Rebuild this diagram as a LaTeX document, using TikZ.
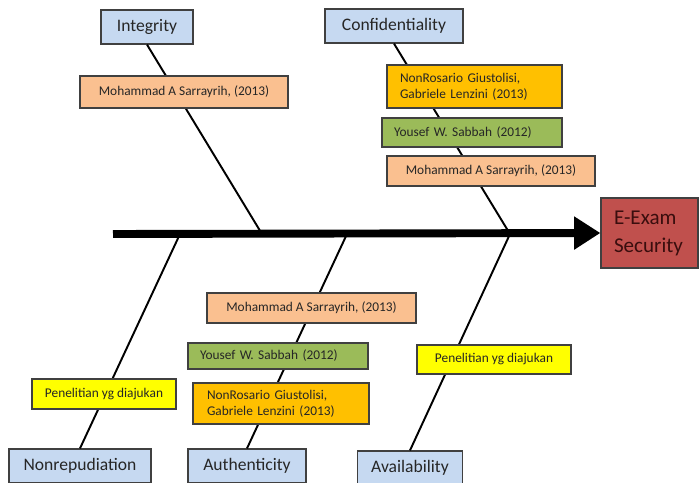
\documentclass[tikz,border=0pt]{standalone}
\usepackage{fontspec}
\setmainfont{Carlito}
\usetikzlibrary{arrows.meta}

\definecolor{boxline}{HTML}{404040}
\definecolor{txtdark}{HTML}{262626}
\definecolor{headblue}{HTML}{C6D9F1}
\definecolor{refsalmon}{HTML}{FAC090}
\definecolor{refgold}{HTML}{FFC000}
\definecolor{refgreen}{HTML}{9BBB59}
\definecolor{refyellow}{HTML}{FFFF00}
\definecolor{examred}{HTML}{C0504D}
\definecolor{examtxt}{HTML}{3A0E0E}

\begin{document}
\begin{tikzpicture}[x=0.02cm, y=-0.02cm,
    head/.style={draw=boxline, fill=headblue, line width=0.7pt, inner sep=0pt,
      minimum height=0.68cm, font=\fontsize{10}{12}\selectfont, text=txtdark},
    ref/.style={draw=boxline, line width=0.7pt, inner sep=0pt,
      font=\fontsize{7.6}{9.2}\selectfont, text=txtdark},
    bone/.style={line width=1.1pt}]
    \useasboundingbox (0,0) rectangle (700,483);

    % Category boxes
    \node[head, minimum width=1.84cm] (integrity) at (147,27) {Integrity};
    \node[head, minimum width=2.76cm] (confid) at (394,26) {Confidentiality};
    \node[head, minimum width=2.84cm] (nonrep) at (80,466) {Nonrepudiation};
    \node[head, minimum width=2.36cm] (authen) at (247,466) {Authenticity};
    \node[head, minimum width=2.10cm] (avail) at (410,468) {Availability};

    % Effect box
    \node[draw=boxline, fill=examred, line width=0.7pt, inner xsep=0.26cm, inner ysep=0pt,
      minimum width=1.94cm, minimum height=1.4cm, text width=1.42cm, align=left,
      font=\fontsize{12}{16}\selectfont, text=examtxt] (exam) at (649.5,233) {E-Exam\\Security};

    % Points on the spine
    \coordinate (tail) at (113,234);
    \coordinate (s1) at (180,234);
    \coordinate (s2) at (262,234);
    \coordinate (s3) at (347,234);
    \coordinate (s4) at (510,234);

    % Bones
    \draw[bone] (s2) -- (integrity.south);
    \draw[bone] (s4) -- (confid.south);
    \draw[bone] (s1) -- (nonrep.north);
    \draw[bone] (s3) -- (authen.north);
    \draw[bone] (s4) -- (avail.north);

    % Spine
    \draw[line width=4.5pt, -{Triangle[length=15pt, width=18pt]}] (tail) -- (exam.west);

    % References on each bone
    \node[ref, fill=refsalmon, minimum width=4.16cm, minimum height=0.64cm] (intref) at (184,92)
      {Mohammad A Sarrayrih, (2013)};

    \node[ref, fill=refgold, minimum height=0.86cm, inner xsep=0.26cm, text width=2.98cm, align=left] (confgold) at (474.5,86.5)
      {NonRosario Giustolisi,\\Gabriele Lenzini (2013)};
    \node[ref, fill=refgreen, minimum height=0.58cm, inner xsep=0.24cm, text width=3.12cm, align=left] (confgreen) at (472,132.5)
      {Yousef W. Sabbah (2012)};
    \node[ref, fill=refsalmon, minimum width=4.16cm, minimum height=0.6cm] (confsalmon) at (491,171)
      {Mohammad A Sarrayrih, (2013)};

    \node[ref, fill=refsalmon, minimum width=4.18cm, minimum height=0.6cm] (authsalmon) at (311.5,308)
      {Mohammad A Sarrayrih, (2013)};
    \node[ref, fill=refgreen, minimum height=0.52cm, inner xsep=0.24cm, text width=3.12cm, align=left] (authgreen) at (278,356)
      {Yousef W. Sabbah (2012)};
    \node[ref, fill=refgold, minimum height=0.82cm, inner xsep=0.28cm, text width=2.96cm, align=left] (authgold) at (281,403.5)
      {NonRosario Giustolisi,\\Gabriele Lenzini (2013)};

    \node[ref, fill=refyellow, minimum width=2.88cm, minimum height=0.6cm] (nonrepref) at (104,394)
      {Penelitian yg diajukan};
    \node[ref, fill=refyellow, minimum width=3.08cm, minimum height=0.58cm] (availref) at (494,359.5)
      {Penelitian yg diajukan};
\end{tikzpicture}
\end{document}
